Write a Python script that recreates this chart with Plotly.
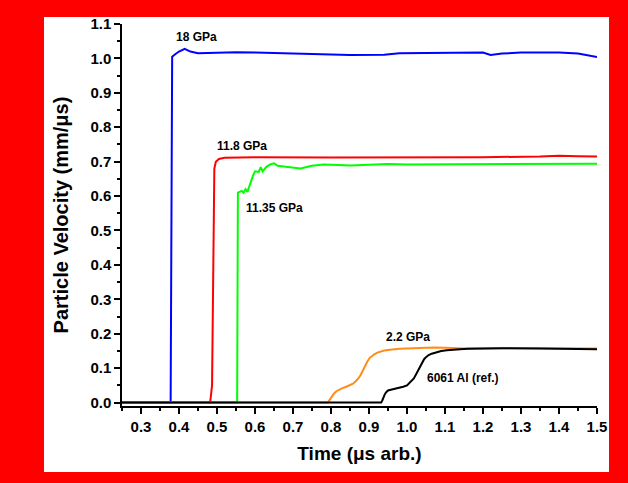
import plotly.graph_objects as go

# ---- data ----
blue_x = [0.25, 0.378, 0.380, 0.382, 0.39, 0.40, 0.415, 0.43, 0.45, 0.50, 0.55, 0.60, 0.70, 0.77, 0.85, 0.94, 0.98, 1.05, 1.15, 1.20, 1.22, 1.25, 1.30, 1.35, 1.40, 1.45, 1.50]
blue_y = [0.0, 0.0, 0.5, 1.005, 1.012, 1.02, 1.028, 1.02, 1.015, 1.017, 1.018, 1.017, 1.015, 1.012, 1.01, 1.011, 1.015, 1.016, 1.018, 1.017, 1.01, 1.014, 1.017, 1.018, 1.017, 1.014, 1.004]

red_x = [0.25, 0.482, 0.487, 0.490, 0.493, 0.497, 0.505, 0.52, 0.60, 0.80, 1.00, 1.20, 1.35, 1.40, 1.45, 1.50]
red_y = [0.0, 0.0, 0.05, 0.40, 0.68, 0.70, 0.708, 0.711, 0.713, 0.712, 0.712, 0.713, 0.715, 0.717, 0.716, 0.715]

green_x = [0.25, 0.553, 0.555, 0.565, 0.57, 0.575, 0.58, 0.585, 0.595, 0.60, 0.61, 0.615, 0.62, 0.63, 0.64, 0.65, 0.66, 0.675, 0.70, 0.72, 0.75, 0.78, 0.82, 0.85, 0.90, 0.95, 1.00, 1.10, 1.20, 1.30, 1.40, 1.50]
green_y = [0.0, 0.0, 0.61, 0.615, 0.61, 0.62, 0.612, 0.63, 0.66, 0.672, 0.67, 0.684, 0.672, 0.685, 0.692, 0.695, 0.688, 0.686, 0.682, 0.68, 0.688, 0.692, 0.69, 0.689, 0.691, 0.693, 0.692, 0.692, 0.693, 0.692, 0.693, 0.694]

orange_x = [0.25, 0.792, 0.796, 0.80, 0.807, 0.814, 0.822, 0.83, 0.84, 0.849, 0.858, 0.865, 0.872, 0.878, 0.884, 0.89, 0.896, 0.902, 0.908, 0.915, 0.922, 0.93, 0.94, 0.95, 0.965, 0.98, 1.00, 1.02, 1.045, 1.07, 1.10, 1.15, 1.30, 1.50]
orange_y = [0.0, 0.0, 0.007, 0.015, 0.025, 0.033, 0.038, 0.042, 0.046, 0.05, 0.055, 0.062, 0.07, 0.08, 0.094, 0.108, 0.12, 0.13, 0.136, 0.141, 0.145, 0.148, 0.151, 0.153, 0.155, 0.156, 0.157, 0.158, 0.159, 0.160, 0.159, 0.157, 0.158, 0.157]

black_x = [0.25, 0.932, 0.935, 0.938, 0.942, 0.946, 0.95, 0.96, 0.97, 0.98, 0.99, 1.0, 1.005, 1.012, 1.018, 1.024, 1.03, 1.035, 1.04, 1.045, 1.05, 1.057, 1.065, 1.075, 1.09, 1.105, 1.12, 1.14, 1.16, 1.20, 1.25, 1.35, 1.50]
black_y = [0.0, 0.0, 0.006, 0.015, 0.025, 0.031, 0.035, 0.038, 0.04, 0.043, 0.046, 0.05, 0.055, 0.062, 0.07, 0.082, 0.095, 0.107, 0.118, 0.126, 0.132, 0.138, 0.142, 0.146, 0.15, 0.152, 0.154, 0.155, 0.156, 0.157, 0.158, 0.157, 0.155]

labels = ["18 GPa", "11.8 GPa", "11.35 GPa", "2.2 GPa", "6061 Al (ref.)"]
label_x = [0.387, 0.495, 0.572, 0.939, 1.047]
label_y = [1.062, 0.746, 0.566, 0.190, 0.070]

x_ticks = [0.3, 0.4, 0.5, 0.6, 0.7, 0.8, 0.9, 1.0, 1.1, 1.2, 1.3, 1.4, 1.5]
y_ticks = [0.0, 0.1, 0.2, 0.3, 0.4, 0.5, 0.6, 0.7, 0.8, 0.9, 1.0, 1.1]

FONT = "Liberation Sans, Arial, sans-serif"

fig = go.Figure()
series = [
    (blue_x, blue_y, "#0000ff"),
    (red_x, red_y, "#ff0000"),
    (green_x, green_y, "#00ff00"),
    (orange_x, orange_y, "#ff8c1a"),
    (black_x, black_y, "#000000"),
]
for xs, ys, col in series:
    fig.add_trace(go.Scatter(x=xs, y=ys, mode="lines",
                             line=dict(color=col, width=2),
                             showlegend=False, hoverinfo="skip"))

for t, xx, yy in zip(labels, label_x, label_y):
    fig.add_annotation(x=xx, y=yy, xref="x", yref="y", text=t, showarrow=False,
                       xanchor="left", yanchor="middle",
                       font=dict(family=FONT, size=12, color="black", weight="bold"))

# white inner panel on red background
fig.add_shape(type="rect", xref="paper", yref="paper",
              x0=-0.1642, x1=1.0253, y0=-0.1728, y1=1.0183,
              fillcolor="white", line=dict(width=0), layer="below")

axis_common = dict(showgrid=False, zeroline=False, showline=True, linecolor="black",
                   linewidth=1.5, ticks="outside", ticklen=6, tickwidth=1.5, tickcolor="black",
                   tickfont=dict(family=FONT, size=15, color="black", weight="bold"))

fig.update_xaxes(range=[0.25, 1.5], tickvals=x_ticks, ticktext=[f"{v:.1f}" for v in x_ticks],
                 minor=dict(dtick=0.05, tick0=0.25, ticks="outside", ticklen=3, tickwidth=1.5, tickcolor="black"),
                 title=dict(text="Time (\u03bcs arb.)", standoff=13,
                            font=dict(family=FONT, size=19, color="black", weight="bold")),
                 **axis_common)
fig.update_yaxes(range=[-0.01, 1.1], tickvals=y_ticks, ticktext=[f"{v:.1f}" for v in y_ticks],
                 minor=dict(dtick=0.05, tick0=0.0, ticks="outside", ticklen=3, tickwidth=1.5, tickcolor="black"),
                 title=dict(text="Particle Velocity (mm/\u03bcs)", standoff=16,
                            font=dict(family=FONT, size=20, color="black", weight="bold")),
                 **axis_common)

fig.update_layout(width=628, height=483,
                  margin=dict(l=122, r=31, t=24, b=77),
                  paper_bgcolor="#ff0000", plot_bgcolor="rgba(0,0,0,0)")

fig.write_html("out.html")
